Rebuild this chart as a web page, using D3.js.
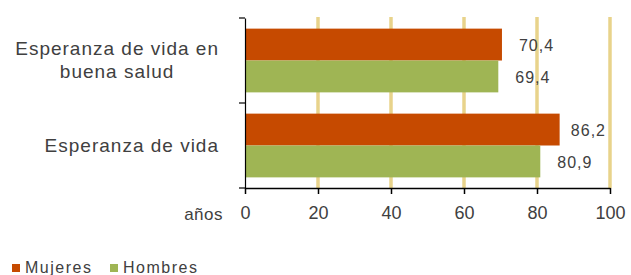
<!DOCTYPE html>
<html>
<head>
<meta charset="utf-8">
<script src="https://cdn.jsdelivr.net/npm/d3@7"></script>
<style>
  body { margin: 0; background: #fff; }
  text { font-family: "Liberation Sans", Arial, sans-serif; fill: #404040; }
</style>
</head>
<body>
<div id="chart"></div>
<script>
// chart values
var categories = ["Esperanza de vida en buena salud", "Esperanza de vida"];
var categoryLines = [["Esperanza de vida en", "buena salud"], ["Esperanza de vida"]];
var seriesNames = ["Mujeres", "Hombres"];
var mujeres = [70.4, 86.2];
var hombres = [69.4, 80.9];
var xTicks = [0, 20, 40, 60, 80, 100];
var axisTitle = "años";

var colors = {"Mujeres": "#c64a00", "Hombres": "#9fb554"};

var width = 631, height = 275;
var margin = {top: 18, left: 245, right: 21, bottom: 87};

var svg = d3.select("#chart")
  .append("svg")
    .attr("width", width)
    .attr("height", height);

var x = d3.scaleLinear()
  .domain([0, 100])
  .range([margin.left, width - margin.right]);

var y = d3.scaleBand()
  .domain(categories)
  .range([margin.top, height - margin.bottom])
  .paddingInner(0.25)
  .paddingOuter(0.125);

var ySub = d3.scaleBand()
  .domain(seriesNames)
  .range([0, y.bandwidth()]);

// vertical gridlines
svg.append("g")
  .selectAll("line")
  .data(xTicks.filter(function(d) { return d > 0; }))
  .enter()
  .append("line")
    .attr("x1", function(d) { return x(d); })
    .attr("x2", function(d) { return x(d); })
    .attr("y1", margin.top - 1)
    .attr("y2", height - margin.bottom)
    .attr("stroke", "#e8d38b")
    .attr("stroke-width", 3.5);

// build rows
var rows = [];
categories.forEach(function(c, i) {
  rows.push({cat: c, serie: "Mujeres", value: mujeres[i]});
  rows.push({cat: c, serie: "Hombres", value: hombres[i]});
});

svg.append("g")
  .selectAll("rect")
  .data(rows)
  .enter()
  .append("rect")
    .attr("x", x(0))
    .attr("y", function(d) { return y(d.cat) + ySub(d.serie); })
    .attr("width", function(d) { return x(d.value) - x(0); })
    .attr("height", ySub.bandwidth())
    .attr("fill", function(d) { return colors[d.serie]; });

// value labels
var labels = svg.append("g")
  .selectAll("text")
  .data(rows)
  .enter()
  .append("text")
    .attr("y", function(d) { return y(d.cat) + ySub(d.serie) + ySub.bandwidth() / 2 + 1; })
    .attr("dy", "0.35em")
    .style("font-size", "16px")
    .style("letter-spacing", "1px")
    .text(function(d) { return d3.format(".1f")(d.value).replace(".", ","); });

labels.attr("x", function(d) {
  var w = this.getComputedTextLength();
  return Math.min(x(d.value) + 17, x(100) - 4 - w);
});

// x axis
var xAxis = svg.append("g")
  .attr("transform", "translate(0," + (height - margin.bottom) + ")")
  .call(d3.axisBottom(x).tickValues(xTicks).tickSize(6).tickSizeOuter(0).tickPadding(12));
xAxis.select(".domain").attr("stroke", "#000").attr("stroke-width", 1.5);
xAxis.selectAll(".tick line").attr("stroke", "#000").attr("stroke-width", 1.5);
xAxis.selectAll(".tick text")
  .style("font-size", "18px")
  .style("font-family", "'Liberation Sans', Arial, sans-serif")
  .attr("fill", "#404040");

svg.append("text")
  .attr("x", 223)
  .attr("y", 220)
  .attr("text-anchor", "end")
  .style("font-size", "17px")
  .style("letter-spacing", "0.5px")
  .text(axisTitle);

// y axis
var yAxis = svg.append("g")
  .attr("transform", "translate(" + margin.left + ",0)")
  .call(d3.axisLeft(d3.scaleLinear().range([margin.top, height - margin.bottom]))
    .tickValues([]).tickSizeOuter(0));
yAxis.select(".domain").attr("stroke", "#000").attr("stroke-width", 1.2);

var yTickPos = [margin.top, margin.top + y.step(), height - margin.bottom];
svg.append("g")
  .selectAll("line")
  .data(yTickPos)
  .enter()
  .append("line")
    .attr("x1", margin.left - 6)
    .attr("x2", margin.left)
    .attr("y1", function(d) { return d; })
    .attr("y2", function(d) { return d; })
    .attr("stroke", "#000")
    .attr("stroke-width", 1.2);

// category labels: block right-aligned, lines centred within it
var catG = svg.append("g");
categories.forEach(function(c, i) {
  var lines = categoryLines[i];
  var lineH = 23;
  var cy = y(c) + y.bandwidth() / 2;
  var t = catG.append("text")
    .attr("text-anchor", "middle")
    .style("font-size", "19px")
    .style("letter-spacing", "1px");
  var spans = t.selectAll("tspan")
    .data(lines)
    .enter()
    .append("tspan")
      .attr("y", function(d, j) { return cy + (j - (lines.length - 1) / 2) * lineH + 6; })
      .text(function(d) { return d; });
  var maxW = 0;
  spans.each(function() { maxW = Math.max(maxW, this.getComputedTextLength()); });
  spans.attr("x", 219 - maxW / 2);
});

// legend
var legendX = [12, 110];
var legend = svg.append("g");
seriesNames.forEach(function(s, i) {
  legend.append("rect")
    .attr("x", legendX[i])
    .attr("y", 264)
    .attr("width", 8)
    .attr("height", 8)
    .attr("fill", colors[s]);
  legend.append("text")
    .attr("x", legendX[i] + 13)
    .attr("y", 273)
    .style("font-size", "16px")
    .style("letter-spacing", "1.5px")
    .text(s);
});
</script>
</body>
</html>
